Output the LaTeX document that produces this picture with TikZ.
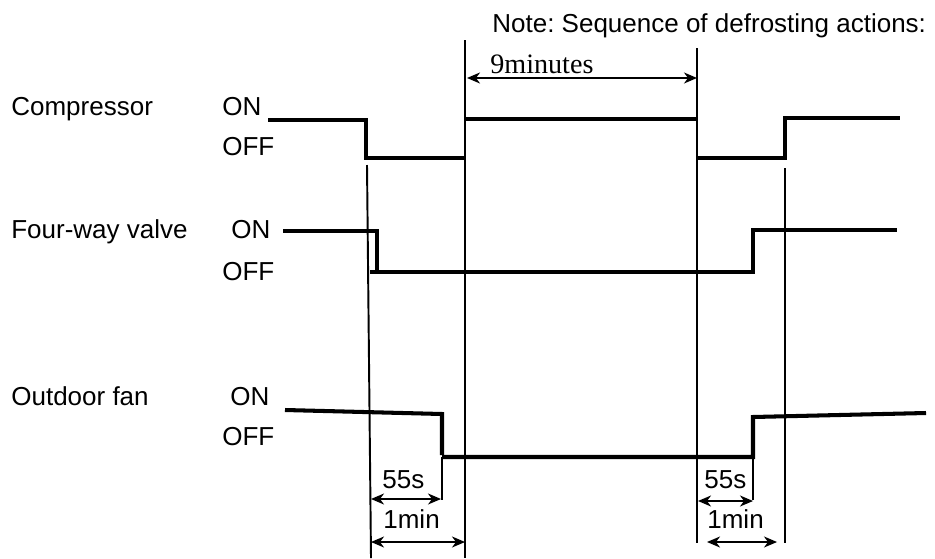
\documentclass[tikz,border=0pt]{standalone}
\usepackage{fontspec}
\setmainfont{Liberation Sans}
\newfontfamily\timesnote{Liberation Serif}
\usepackage{tikz}
\usetikzlibrary{arrows.meta}
\frenchspacing
\tikzset{
  sigtext/.style={anchor=base west, inner sep=0pt, font=\fontsize{14.8}{17}\selectfont},
  dimtext/.style={sigtext, font=\fontsize{16}{18}\selectfont\timesnote},
  signal/.style={line width=2.3pt, line join=miter},
  guide/.style={line width=1.1pt},
  dimarrow/.style={{Stealth[length=2.6mm, width=2.2mm, inset=0.8mm]}-{Stealth[length=2.6mm, width=2.2mm, inset=0.8mm]}, line width=0.9pt}
}

\begin{document}
\begin{tikzpicture}[x=0.02cm, y=-0.02cm]
\useasboundingbox (0,0) rectangle (935,558);

% Title
\node[sigtext] (note) at (492,32) {Note: Sequence of defrosting actions:};

% Signal names and levels
\node[sigtext] (comp) at (11,115) {Compressor};
\node[sigtext] (compon) at (222,115) {ON};
\node[sigtext] (compoff) at (222,155) {OFF};
\node[sigtext] (valve) at (11,238) {Four-way valve};
\node[sigtext] (valveon) at (231,238) {ON};
\node[sigtext] (valveoff) at (222,280) {OFF};
\node[sigtext] (fan) at (11,405) {Outdoor fan};
\node[sigtext] (fanon) at (230,405) {ON};
\node[sigtext] (fanoff) at (222,445) {OFF};

% Time marks
\coordinate (stopA) at (371,499);  \coordinate (fanA) at (441,499);
\coordinate (minA) at (371,542);   \coordinate (restA) at (465,542);
\coordinate (stopB) at (698,501);  \coordinate (fanB) at (753,501);
\coordinate (minB) at (707,542);   \coordinate (restB) at (777,542);
\coordinate (defL) at (467,78);    \coordinate (defR) at (697,78);

\draw[guide] (367,165) -- (371,558);
\draw[guide] (465,40) -- (465,558);
\draw[guide] (697,48) -- (697,543);
\draw[guide] (785,168) -- (785,543);
\draw[guide] (442,457) -- (442,500);
\draw[guide] (753,457) -- (753,500);

% Compressor
\draw[signal] (268,120) -- (366,120) -- (366,158) -- (465,158);
\draw[signal] (465,119) -- (697,119);
\draw[signal] (697,158) -- (785,158) -- (785,118) -- (900,118);

% Four-way valve
\draw[signal] (283,231) -- (377,231) -- (377,271);
\draw[signal] (370,272) -- (753,272) -- (753,230) -- (897,230);

% Outdoor fan
\draw[signal] (285,410) -- (442,414) -- (442,455);
\draw[signal] (442,457) -- (753,457) -- (753,417) -- (926,413);

% Durations
\draw[dimarrow] (defL) -- (defR);
\node[dimtext] (ninemin) at (490,73) {9minutes};
\draw[dimarrow] (stopA) -- (fanA);
\node[sigtext] (secA) at (382,488) {55s};
\draw[dimarrow] (minA) -- (restA);
\node[sigtext] (oneA) at (383,528) {1min};
\draw[dimarrow] (stopB) -- (fanB);
\node[sigtext] (secB) at (704,488) {55s};
\draw[dimarrow] (minB) -- (restB);
\node[sigtext] (oneB) at (707,528) {1min};

\end{tikzpicture}
\end{document}
